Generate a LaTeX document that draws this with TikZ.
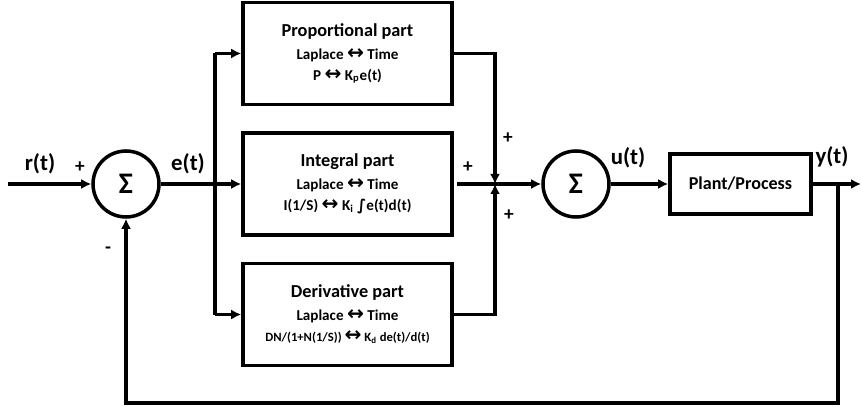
\documentclass[tikz,border=0pt]{standalone}
\usepackage{fontspec}
\setmainfont{Carlito}
\newfontfamily\symfont{DejaVu Sans}
\usepackage{tikz}
\usetikzlibrary{arrows.meta,positioning,calc}

\newcommand{\lrarr}{{\symfont\bfseries\fontsize{11.5}{11.5}\selectfont ↔}}

\begin{document}
\begin{tikzpicture}[
        font=\bfseries,
        every path/.style={line width=2pt},
        part/.style={draw, align=center, minimum width=4.18cm, minimum height=2.04cm, fill=white},
        plantbox/.style={draw, align=center, minimum width=2.82cm, minimum height=1.2cm, font=\bfseries\fontsize{10.3}{12}\selectfont},
        sumnode/.style={draw, circle, minimum size=1.32cm, inner sep=0pt, font=\bfseries\fontsize{17}{18}\selectfont},
        lbl/.style={font=\bfseries\fontsize{13}{15}\selectfont, inner sep=0pt},
        sign/.style={font=\bfseries\fontsize{11}{13}\selectfont, inner sep=0pt},
        arr/.style={-{Latex[length=2mm,width=2mm]}}
    ]
    \useasboundingbox (0,0) rectangle (17.22,8.14);

    \node[sumnode] (sum1) at (2.52,4.46) {Σ};
    \node[part] (integral) at (6.95,4.46) {{\fontsize{10.4}{12}\selectfont Integral part}\\[1pt]
        {\fontsize{8.6}{10.5}\selectfont Laplace \lrarr{} Time}\\
        {\fontsize{8.6}{10.5}\selectfont I(1/S) \lrarr{} K\textsubscript{i} {\symfont\bfseries ∫}e(t)d(t)}};
    \node[part, above=0.5cm of integral] (prop) {{\fontsize{10.4}{12}\selectfont Proportional part}\\[1pt]
        {\fontsize{8.6}{10.5}\selectfont Laplace \lrarr{} Time}\\
        {\fontsize{8.6}{10.5}\selectfont P \lrarr{} K\textsubscript{p}e(t)}};
    \node[part, below=0.5cm of integral] (deriv) {{\fontsize{10.4}{12}\selectfont Derivative part}\\[1pt]
        {\fontsize{8.6}{10.5}\selectfont Laplace \lrarr{} Time}\\
        {\fontsize{7.2}{10}\selectfont DN/(1+N(1/S)) \lrarr{} K\textsubscript{d} de(t)/d(t)}};
    \node[sumnode] (sum2) at (11.52,4.46) {Σ};
    \node[plantbox] (plant) at (14.81,4.46) {Plant/Process};

    \coordinate (input) at (0.16,4.46);
    \coordinate (branch) at (4.3,4.46);
    \coordinate (junction) at (9.9,4.46);
    \coordinate (tap) at (16.76,4.46);
    \coordinate (output) at (17.22,4.46);
    \coordinate (bottom) at (16.76,0.08);

    % signal labels
    \node[lbl] (rlbl) at (0.8,4.86) {r(t)};
    \node[lbl] (elbl) at (3.76,4.86) {e(t)};
    \node[lbl] (ulbl) at (12.56,4.98) {u(t)};
    \node[lbl] (ylbl) at (16.64,5.0) {y(t)};
    \node[sign] (plus1) at (1.6,4.8) {+};
    \node[sign] (minus1) at (2.16,3.14) {-};
    \node[sign] (plusp) at (10.16,5.38) {+};
    \node[sign] (plusi) at (9.36,4.8) {+};
    \node[sign] (plusd) at (10.18,3.84) {+};

    \draw[arr] (input) -- (sum1);
    \draw[arr] (sum1) -- (integral);
    \draw (branch |- prop) -- (branch |- deriv);
    \draw[arr] (branch |- prop) -- (prop);
    \draw[arr] (branch |- deriv) -- (deriv);
    \draw[arr] ([xshift=2pt]integral.east) -- (sum2);
    \draw[arr] (prop) -| (junction);
    \draw[arr] (deriv) -| (junction);
    \draw[arr] (sum2) -- (plant);
    \draw[arr] (plant) -- (output);
    \draw[arr] (tap) -- (bottom) -| (sum1);
\end{tikzpicture}
\end{document}
